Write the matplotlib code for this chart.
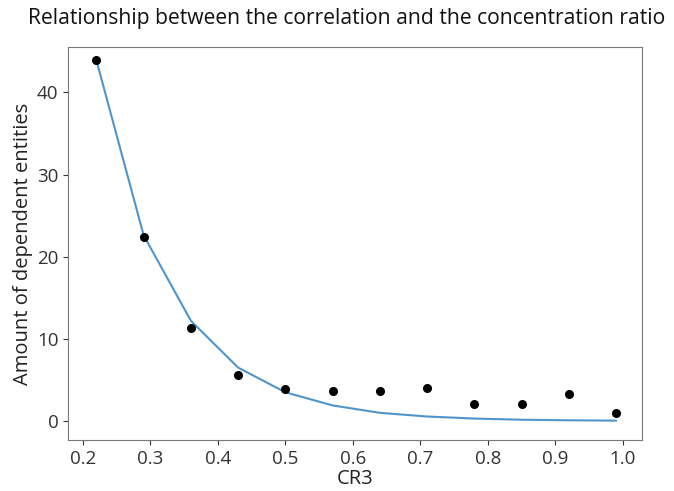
import matplotlib
matplotlib.use("Agg")
import matplotlib.pyplot as plt

plt.rcParams['font.family'] = ['Open Sans', 'DejaVu Sans']

# CR3 values and observed number of dependent entities
cr3 = [0.22, 0.29, 0.36, 0.43, 0.50, 0.57, 0.64, 0.71, 0.78, 0.85, 0.92, 0.99]
observed = [43.9, 22.4, 11.3, 5.6, 3.9, 3.65, 3.65, 4.0, 2.05, 2.05, 3.25, 1.0]
# fitted curve evaluated at the same CR3 values
fitted = [43.9, 22.6, 12.2, 6.5, 3.5, 1.9, 1.0, 0.55, 0.3, 0.16, 0.09, 0.05]

x_ticks = [0.2, 0.3, 0.4, 0.5, 0.6, 0.7, 0.8, 0.9, 1.0]
y_ticks = [0, 10, 20, 30, 40]

fig = plt.figure(figsize=(6.74, 4.91), dpi=100)
ax = fig.add_axes([0.101, 0.104, 0.852, 0.800])

ax.plot(cr3, fitted, color='#4f95cc', linewidth=1.5)
ax.plot(cr3, observed, 'o', color='black', markersize=5.5)

ax.set_xticks(x_ticks)
ax.set_xticklabels([f"{t:.1f}" for t in x_ticks])
ax.set_yticks(y_ticks)
ax.set_xlim(0.178, 1.029)
ax.set_ylim(-2.3, 45.5)

ax.tick_params(labelsize=13.5, colors='#333333')
for s in ax.spines.values():
    s.set_color('#777777')

ax.set_xlabel('CR3', fontsize=14.5, color='#222222', labelpad=1)
ax.set_ylabel('Amount of dependent entities', fontsize=14.5, color='#222222', labelpad=3)
fig.text(0.515, 0.962, 'Relationship between the correlation and the concentration ratio',
         ha='center', va='center', fontsize=15.2, color='#111111')

fig.savefig('out.png', dpi=100)
